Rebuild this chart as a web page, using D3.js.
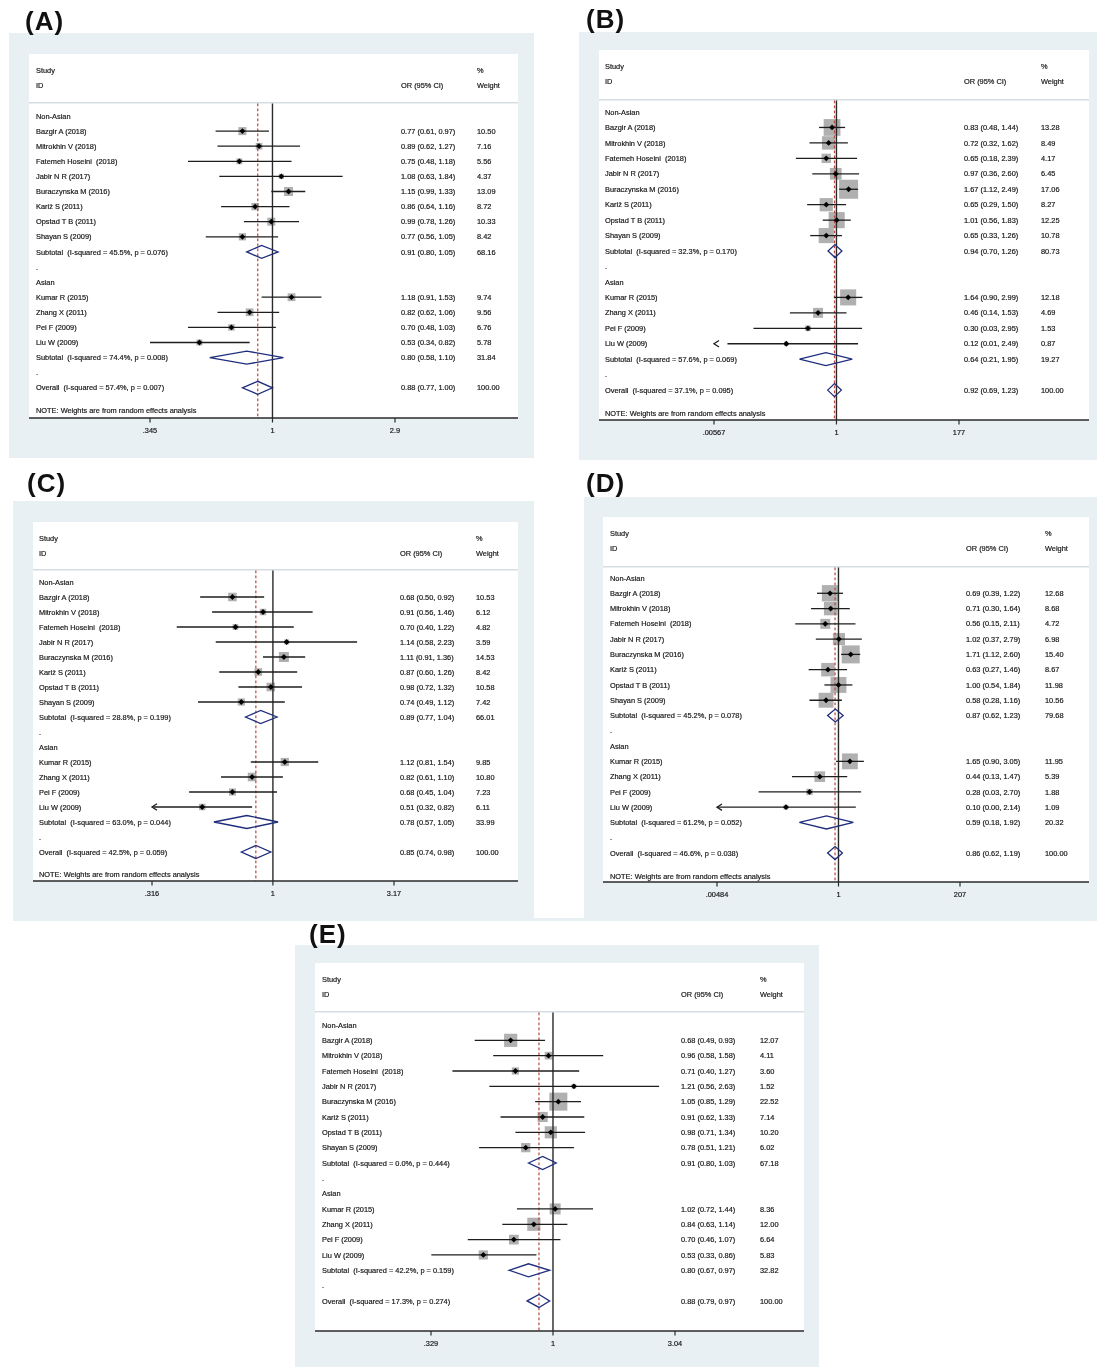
<!DOCTYPE html>
<html>
<head>
<meta charset="utf-8">
<script src="https://cdn.jsdelivr.net/npm/d3@7"></script>
<style>
  body { margin: 0; background: #fff; }
  svg { display: block; will-change: transform; }
  text { font-family: "Liberation Sans", Arial, Helvetica, sans-serif; fill: #151515; }
  text.small { stroke: #151515; stroke-width: 0.18px; }
</style>
</head>
<body>
<svg id="chart" width="1097" height="1367"></svg>
<script>
// ---- Study names (same order in every panel) ----
const nonAsianStudies = ["Bazgir A (2018)", "Mitrokhin V (2018)", "Fatemeh Hoseini  (2018)", "Jabir N R (2017)",
  "Buraczynska M (2016)", "Kariž S (2011)", "Opstad T B (2011)", "Shayan S (2009)"];
const asianStudies = ["Kumar R (2015)", "Zhang X (2011)", "Pei F (2009)", "Liu W (2009)"];

// ---- Per-study estimates: [OR, lower 95% CI, upper 95% CI, % weight] ----
// ---- Pooled rows: [OR, lower, upper, % weight, I-squared, p] for Non-Asian subtotal, Asian subtotal, overall ----

// Model A
const studiesA = [[0.77,0.61,0.97,10.50],[0.89,0.62,1.27,7.16],[0.75,0.48,1.18,5.56],[1.08,0.63,1.84,4.37],
  [1.15,0.99,1.33,13.09],[0.86,0.64,1.16,8.72],[0.99,0.78,1.26,10.33],[0.77,0.56,1.05,8.42],
  [1.18,0.91,1.53,9.74],[0.82,0.62,1.06,9.56],[0.70,0.48,1.03,6.76],[0.53,0.34,0.82,5.78]];
const pooledA = [[0.91,0.80,1.05,68.16,"45.5%","0.076"],[0.80,0.58,1.10,31.84,"74.4%","0.008"],[0.88,0.77,1.00,100.00,"57.4%","0.007"]];
const ticksA = [0.345, 1, 2.9];
const tickLabelsA = [".345", "1", "2.9"];
const clippedA = [];

// Model B
const studiesB = [[0.83,0.48,1.44,13.28],[0.72,0.32,1.62,8.49],[0.65,0.18,2.39,4.17],[0.97,0.36,2.60,6.45],
  [1.67,1.12,2.49,17.06],[0.65,0.29,1.50,8.27],[1.01,0.56,1.83,12.25],[0.65,0.33,1.26,10.78],
  [1.64,0.90,2.99,12.18],[0.46,0.14,1.53,4.69],[0.30,0.03,2.95,1.53],[0.12,0.01,2.49,0.87]];
const pooledB = [[0.94,0.70,1.26,80.73,"32.3%","0.170"],[0.64,0.21,1.95,19.27,"57.6%","0.069"],[0.92,0.69,1.23,100.00,"37.1%","0.095"]];
const ticksB = [0.00567, 1, 177];
const tickLabelsB = [".00567", "1", "177"];
const clippedB = ["Liu W (2009)"];

// Model C
const studiesC = [[0.68,0.50,0.92,10.53],[0.91,0.56,1.46,6.12],[0.70,0.40,1.22,4.82],[1.14,0.58,2.23,3.59],
  [1.11,0.91,1.36,14.53],[0.87,0.60,1.26,8.42],[0.98,0.72,1.32,10.58],[0.74,0.49,1.12,7.42],
  [1.12,0.81,1.54,9.85],[0.82,0.61,1.10,10.80],[0.68,0.45,1.04,7.23],[0.51,0.32,0.82,6.11]];
const pooledC = [[0.89,0.77,1.04,66.01,"28.8%","0.199"],[0.78,0.57,1.05,33.99,"63.0%","0.044"],[0.85,0.74,0.98,100.00,"42.5%","0.059"]];
const ticksC = [0.316, 1, 3.17];
const tickLabelsC = [".316", "1", "3.17"];
const clippedC = ["Liu W (2009)"];

// Model D
const studiesD = [[0.69,0.39,1.22,12.68],[0.71,0.30,1.64,8.68],[0.56,0.15,2.11,4.72],[1.02,0.37,2.79,6.98],
  [1.71,1.12,2.60,15.40],[0.63,0.27,1.46,8.67],[1.00,0.54,1.84,11.98],[0.58,0.28,1.16,10.56],
  [1.65,0.90,3.05,11.95],[0.44,0.13,1.47,5.39],[0.28,0.03,2.70,1.88],[0.10,0.00,2.14,1.09]];
const pooledD = [[0.87,0.62,1.23,79.68,"45.2%","0.078"],[0.59,0.18,1.92,20.32,"61.2%","0.052"],[0.86,0.62,1.19,100.00,"46.6%","0.038"]];
const ticksD = [0.00484, 1, 207];
const tickLabelsD = [".00484", "1", "207"];
const clippedD = ["Liu W (2009)"];

// Model E
const studiesE = [[0.68,0.49,0.93,12.07],[0.96,0.58,1.58,4.11],[0.71,0.40,1.27,3.60],[1.21,0.56,2.63,1.52],
  [1.05,0.85,1.29,22.52],[0.91,0.62,1.33,7.14],[0.98,0.71,1.34,10.20],[0.78,0.51,1.21,6.02],
  [1.02,0.72,1.44,8.36],[0.84,0.63,1.14,12.00],[0.70,0.46,1.07,6.64],[0.53,0.33,0.86,5.83]];
const pooledE = [[0.91,0.80,1.03,67.18,"0.0%","0.444"],[0.80,0.67,0.97,32.82,"42.2%","0.159"],[0.88,0.79,0.97,100.00,"17.3%","0.274"]];
const ticksE = [0.329, 1, 3.04];
const tickLabelsE = [".329", "1", "3.04"];
const clippedE = [];

const panels = [
  { title: "(A)", studies: studiesA, pooled: pooledA, ticks: ticksA, tickLabels: tickLabelsA, clipped: clippedA, note: true },
  { title: "(B)", studies: studiesB, pooled: pooledB, ticks: ticksB, tickLabels: tickLabelsB, clipped: clippedB, note: true },
  { title: "(C)", studies: studiesC, pooled: pooledC, ticks: ticksC, tickLabels: tickLabelsC, clipped: clippedC, note: true },
  { title: "(D)", studies: studiesD, pooled: pooledD, ticks: ticksD, tickLabels: tickLabelsD, clipped: clippedD, note: true },
  { title: "(E)", studies: studiesE, pooled: pooledE, ticks: ticksE, tickLabels: tickLabelsE, clipped: clippedE, note: false }
];

// ---- Page layout of each panel (pixels) ----
const layouts = [
  { bg: [9, 33, 534, 458],    white: [29, 518],  head: [54, 102],   rowY0: 116,  step: 15.1,  axisY: 418,  x: [150, 395], labelX: 36,  orX: 401, wX: 477,  boxMax: 9,  title: [25, 30] },
  { bg: [579, 32, 1097, 460], white: [599, 1089], head: [50, 99],   rowY0: 112,  step: 15.45, axisY: 420,  x: [714, 959], labelX: 605, orX: 964, wX: 1041, boxMax: 19, title: [586, 28] },
  { bg: [13, 501, 534, 921],  white: [33, 518],  head: [522, 569],  rowY0: 582,  step: 15.0,  axisY: 881,  x: [152, 394], labelX: 39,  orX: 400, wX: 476,  boxMax: 10, title: [27, 492] },
  { bg: [584, 497, 1097, 921], white: [603, 1089], head: [517, 566], rowY0: 578, step: 15.28, axisY: 882,  x: [717, 960], labelX: 610, orX: 966, wX: 1045, boxMax: 18, title: [586, 492] },
  { bg: [295, 945, 819, 1367], white: [315, 804], head: [963, 1011], rowY0: 1025, step: 15.33, axisY: 1331, x: [431, 675], labelX: 322, orX: 681, wX: 760, boxMax: 18, title: [309, 943] }
];

const BG = "#e9f0f3";
const FS = 7.4;
const fmt = d3.format(".2f");
const svg = d3.select("#chart");

// thin band joining the two middle panels along their lower edge
svg.append("rect").attr("x", 280).attr("y", 918).attr("width", 720).attr("height", 3).attr("fill", BG);

function drawPanel(p, L) {
  const g = svg.append("g");

  // background, header box, separator and plotting area
  g.append("rect").attr("x", L.bg[0]).attr("y", L.bg[1])
    .attr("width", L.bg[2] - L.bg[0]).attr("height", L.bg[3] - L.bg[1]).attr("fill", BG);
  g.append("rect").attr("x", L.white[0]).attr("y", L.head[0])
    .attr("width", L.white[1] - L.white[0]).attr("height", L.head[1] - L.head[0]).attr("fill", "#fff");
  g.append("rect").attr("x", L.white[0]).attr("y", L.head[1])
    .attr("width", L.white[1] - L.white[0]).attr("height", 1.6).attr("fill", "#d6dde1");
  const plotTop = L.head[1] + 1.6;
  g.append("rect").attr("x", L.white[0]).attr("y", plotTop)
    .attr("width", L.white[1] - L.white[0]).attr("height", L.axisY - plotTop).attr("fill", "#fff");

  // panel letter
  g.append("text").attr("x", L.title[0]).attr("y", L.title[1])
    .attr("font-size", 26).attr("font-weight", "bold").attr("letter-spacing", 1)
    .style("fill", "#111").text(p.title);

  // header texts
  const hy1 = L.head[0] + 16 + 2.6, hy2 = L.head[0] + 31 + 2.6;
  const txt = (x, y, s) => g.append("text").attr("class", "small").attr("x", x).attr("y", y).attr("font-size", FS)
    .style("white-space", "pre").text(s);
  txt(L.labelX, hy1, "Study");
  txt(L.labelX, hy2, "ID");
  txt(L.orX, hy2, "OR (95% CI)");
  txt(L.wX, hy1, "%");
  txt(L.wX, hy2, "Weight");

  // log-scale x axis spanning the tick range
  const dMin = p.ticks[0], dMax = p.ticks[p.ticks.length - 1];
  const x = d3.scaleLog().domain([dMin, dMax]).range(L.x);
  const xc = v => x(Math.min(Math.max(v, dMin), dMax));
  const rowY = i => L.rowY0 + i * L.step;

  // assemble the rows of the table
  const rows = [];
  rows.push({ type: "group", label: "Non-Asian", i: 0 });
  nonAsianStudies.forEach((s, k) => rows.push({ type: "study", label: s, v: p.studies[k], i: 1 + k }));
  rows.push({ type: "pooled", label: `Subtotal  (I-squared = ${p.pooled[0][4]}, p = ${p.pooled[0][5]})`, v: p.pooled[0], i: 9 });
  rows.push({ type: "dot", label: ".", i: 10 });
  rows.push({ type: "group", label: "Asian", i: 11 });
  asianStudies.forEach((s, k) => rows.push({ type: "study", label: s, v: p.studies[8 + k], i: 12 + k }));
  rows.push({ type: "pooled", label: `Subtotal  (I-squared = ${p.pooled[1][4]}, p = ${p.pooled[1][5]})`, v: p.pooled[1], i: 16 });
  rows.push({ type: "dot", label: ".", i: 17 });
  rows.push({ type: "pooled", label: `Overall  (I-squared = ${p.pooled[2][4]}, p = ${p.pooled[2][5]})`, v: p.pooled[2], i: 18 });

  const studyRows = rows.filter(r => r.type === "study");
  const pooledRows = rows.filter(r => r.type === "pooled");
  const maxW = d3.max(studyRows, r => r.v[3]);

  // weight boxes (area proportional to weight)
  g.selectAll("rect.box").data(studyRows).join("rect").attr("class", "box")
    .each(function (r) {
      const s = L.boxMax * Math.sqrt(r.v[3] / maxW);
      d3.select(this).attr("x", x(r.v[0]) - s / 2).attr("y", rowY(r.i) - s / 2)
        .attr("width", s).attr("height", s);
    })
    .attr("fill", "#b0b0b0");

  // line of no effect and overall estimate
  g.append("line").attr("x1", x(1)).attr("x2", x(1)).attr("y1", plotTop).attr("y2", L.axisY)
    .attr("stroke", "#2a2a2a").attr("stroke-width", 1.4);
  const ov = p.pooled[2][0];
  g.append("line").attr("x1", x(ov)).attr("x2", x(ov)).attr("y1", plotTop).attr("y2", L.axisY)
    .attr("stroke", "#b8463d").attr("stroke-width", 1.2).attr("stroke-dasharray", "2.6,2.4");

  // confidence intervals
  g.selectAll("line.ci").data(studyRows).join("line").attr("class", "ci")
    .attr("x1", r => xc(r.v[1])).attr("x2", r => xc(r.v[2]))
    .attr("y1", r => rowY(r.i)).attr("y2", r => rowY(r.i))
    .attr("stroke", "#1e1e1e").attr("stroke-width", 1.3);

  // arrows where the lower limit runs past the axis
  g.selectAll("path.arrow").data(studyRows.filter(r => p.clipped.includes(r.label))).join("path")
    .attr("class", "arrow")
    .attr("d", r => { const x0 = x(dMin), y0 = rowY(r.i); return `M${x0 + 5},${y0 - 3.2}L${x0},${y0}L${x0 + 5},${y0 + 3.2}`; })
    .attr("fill", "none").attr("stroke", "#1e1e1e").attr("stroke-width", 1.3);

  // point estimates
  g.selectAll("path.pt").data(studyRows).join("path").attr("class", "pt")
    .attr("d", r => { const cx = x(r.v[0]), cy = rowY(r.i), h = 2.9; return `M${cx},${cy - h}L${cx + h},${cy}L${cx},${cy + h}L${cx - h},${cy}Z`; })
    .attr("fill", "#000");

  // pooled diamonds
  g.selectAll("path.dia").data(pooledRows).join("path").attr("class", "dia")
    .attr("d", r => { const cy = rowY(r.i), h = 6.5;
      return `M${xc(r.v[1])},${cy}L${x(r.v[0])},${cy - h}L${xc(r.v[2])},${cy}L${x(r.v[0])},${cy + h}Z`; })
    .attr("fill", "none").attr("stroke", "#1f2d7d").attr("stroke-width", 1.3);

  // row labels, estimates and weights
  rows.forEach(r => {
    const yb = rowY(r.i) + 2.6;
    txt(L.labelX, yb, r.label);
    if (r.v) {
      txt(L.orX, yb, `${fmt(r.v[0])} (${fmt(r.v[1])}, ${fmt(r.v[2])})`);
      txt(L.wX, yb, fmt(r.v[3]));
    }
  });
  if (p.note) txt(L.labelX, rowY(19.5) + 2.6, "NOTE: Weights are from random effects analysis");

  // axis line, ticks and labels
  g.append("line").attr("x1", L.white[0]).attr("x2", L.white[1]).attr("y1", L.axisY).attr("y2", L.axisY)
    .attr("stroke", "#2a2a2a").attr("stroke-width", 1.3);
  p.ticks.forEach((t, k) => {
    g.append("line").attr("x1", x(t)).attr("x2", x(t)).attr("y1", L.axisY).attr("y2", L.axisY + 4.5)
      .attr("stroke", "#2a2a2a").attr("stroke-width", 1.2);
    g.append("text").attr("class", "small").attr("x", x(t)).attr("y", L.axisY + 15).attr("font-size", FS)
      .attr("text-anchor", "middle").text(p.tickLabels[k]);
  });
}

panels.forEach((p, k) => drawPanel(p, layouts[k]));
</script>
</body>
</html>
